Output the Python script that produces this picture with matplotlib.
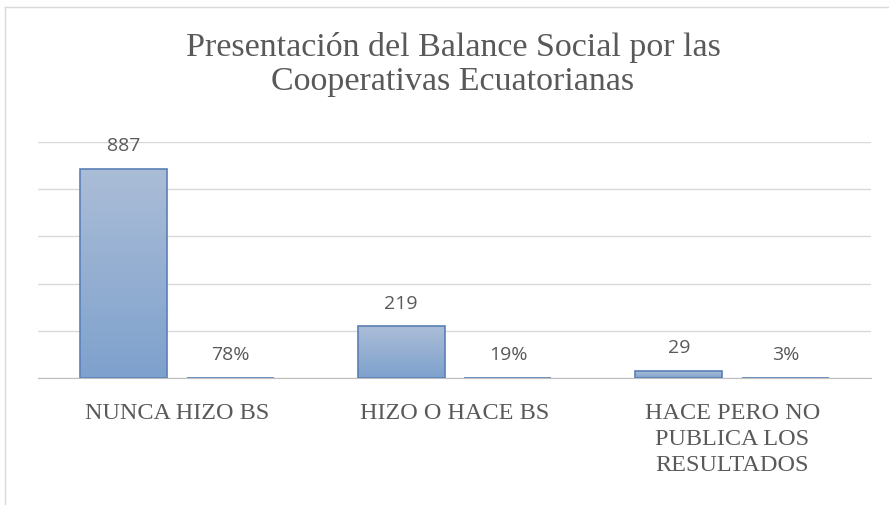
import matplotlib
matplotlib.use("Agg")
import matplotlib.pyplot as plt
import numpy as np
from matplotlib.colors import LinearSegmentedColormap
from matplotlib.lines import Line2D

categories = ["NUNCA HIZO BS", "HIZO O HACE BS", "HACE PERO NO\nPUBLICA LOS\nRESULTADOS"]
counts = [887, 219, 29]
shares = [0.78, 0.19, 0.03]
count_labels = ["887", "219", "29"]
share_labels = ["78%", "19%", "3%"]
title_lines = ["Presentación del Balance Social por las", "Cooperativas Ecuatorianas"]

fig = plt.figure(figsize=(8.89, 5.06), dpi=100)
ax = fig.add_axes([38/889, 1-379/506, (871-38)/889, (379-143)/506])

x = np.arange(len(categories))
w = 0.313
gap = 0.072
off = (w + gap) / 2

cmap = LinearSegmentedColormap.from_list("g", ["#7ea1cd", "#abbdd7"])
grad = np.linspace(0, 1, 256).reshape(-1, 1)

def draw_bars(xs, vals):
    bars = ax.bar(xs, vals, width=w, color="none", edgecolor="#5a80b6", linewidth=1.2, zorder=3)
    for b in bars:
        x0, y0 = b.get_x(), b.get_y()
        bw, bh = b.get_width(), b.get_height()
        im = ax.imshow(grad, cmap=cmap, origin="lower", aspect="auto",
                       extent=[x0, x0 + bw, y0, y0 + max(bh, 1e-9)], zorder=2)
        im.set_clip_path(b)
    return bars

b1 = draw_bars(x - off, counts)
b2 = draw_bars(x + off, shares)

for bars, labels in ((b1, count_labels), (b2, share_labels)):
    for b, lab in zip(bars, labels):
        ax.annotate(lab, (b.get_x() + b.get_width()/2, b.get_height()), xytext=(0, 13.5),
                    textcoords="offset points", ha="center", va="baseline",
                    fontsize=14, color="#595959", family="Open Sans")

ax.set_xlim(-0.5, 2.5)
ax.set_ylim(0, 1000)
ax.set_yticks([0, 200, 400, 600, 800, 1000])
ax.yaxis.grid(True, color="#d9d9d9", linewidth=1.0, zorder=0)
ax.set_axisbelow(True)
ax.tick_params(axis="y", left=False, labelleft=False)
ax.tick_params(axis="x", length=0, pad=17)
ax.set_xticks(x)
ax.set_xticklabels(categories, family="Liberation Serif", fontsize=17.5, color="#595959",
                   va="top", linespacing=1.32)
for s in ["left", "right", "top"]:
    ax.spines[s].set_visible(False)
ax.spines["bottom"].set_color("#bfbfbf")
ax.set_facecolor("none")

fig.text(453/889, 1-56/506, title_lines[0], ha="center", va="baseline",
         family="Liberation Serif", fontsize=24.5, color="#595959")
fig.text(453/889, 1-90/506, title_lines[1], ha="center", va="baseline",
         family="Liberation Serif", fontsize=24.5, color="#595959")

fig.add_artist(Line2D([5/889, 5/889], [0, 1-8/506], transform=fig.transFigure, color="#d9d9d9", lw=1))
fig.add_artist(Line2D([5/889, 1], [1-8/506, 1-8/506], transform=fig.transFigure, color="#d9d9d9", lw=1))

fig.savefig("out.png", dpi=100)
